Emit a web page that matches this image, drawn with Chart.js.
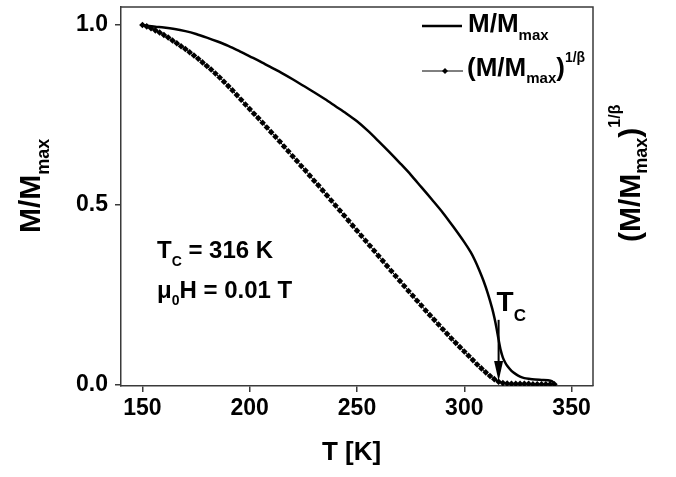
<!DOCTYPE html>
<html>
<head>
<meta charset="utf-8">
<script src="https://cdn.jsdelivr.net/npm/chart.js@4.4.1/dist/chart.umd.min.js"></script>
<style>
    html, body { margin: 0; padding: 0; background: #fff; }
    #wrap { width: 676px; height: 477px; }
</style>
</head>
<body>
<div id="wrap"><canvas id="myChart"></canvas></div>
<script>
// M/Mmax (solid line)
const tempSolid = [150, 153, 156, 160, 165, 170, 175, 180, 185, 190, 195, 200, 205, 210, 215, 220, 225, 230, 235, 240,
    245, 250, 255, 260, 265, 270, 275, 280, 285, 290, 295, 300, 303, 305, 307, 309, 311, 313, 314, 315,
    316, 317, 318, 319, 320, 322, 324, 326, 328, 330, 333, 336, 339, 341, 342];
const mSolid = [1.000, 0.997, 0.995, 0.993, 0.989, 0.983, 0.975, 0.965, 0.954, 0.942, 0.928, 0.913, 0.898, 0.882, 0.866, 0.849, 0.831, 0.813, 0.794, 0.774,
    0.754, 0.732, 0.706, 0.677, 0.647, 0.616, 0.584, 0.549, 0.514, 0.478, 0.438, 0.396, 0.368, 0.345, 0.318, 0.288, 0.253, 0.212, 0.187, 0.158,
    0.125, 0.095, 0.075, 0.062, 0.052, 0.038, 0.029, 0.022, 0.018, 0.016, 0.014, 0.013, 0.012, 0.009, 0.003];

// (M/Mmax)^(1/beta) (dotted line)
const tempDotted = [150, 152, 154, 156, 158, 160, 162, 164, 166, 168, 170, 172, 174, 176, 178, 180, 182, 184, 186, 188,
    190, 192, 194, 196, 198, 200, 202, 204, 206, 208, 210, 212, 214, 216, 218, 220, 222, 224, 226, 228,
    230, 232, 234, 236, 238, 240, 242, 244, 246, 248, 250, 252, 254, 256, 258, 260, 262, 264, 266, 268,
    270, 272, 274, 276, 278, 280, 282, 284, 286, 288, 290, 292, 294, 296, 298, 300, 302, 304, 306, 308,
    310, 312, 314, 316, 318, 320, 322, 324, 326, 328, 330, 332, 334, 336, 338, 340, 342];
const mDotted = [1.000, 0.996, 0.991, 0.985, 0.979, 0.972, 0.965, 0.957, 0.949, 0.941, 0.933, 0.924, 0.915, 0.906, 0.896, 0.886, 0.876, 0.865, 0.854, 0.842,
    0.830, 0.818, 0.805, 0.792, 0.779, 0.766, 0.753, 0.741, 0.728, 0.715, 0.702, 0.689, 0.676, 0.662, 0.649, 0.635, 0.622, 0.608, 0.595, 0.581,
    0.567, 0.554, 0.540, 0.526, 0.512, 0.498, 0.484, 0.470, 0.456, 0.442, 0.428, 0.414, 0.400, 0.386, 0.372, 0.358, 0.344, 0.330, 0.316, 0.302,
    0.288, 0.274, 0.260, 0.247, 0.233, 0.220, 0.206, 0.193, 0.180, 0.167, 0.154, 0.141, 0.128, 0.116, 0.104, 0.092, 0.080, 0.068, 0.056, 0.045,
    0.034, 0.024, 0.015, 0.008, 0.004, 0.003, 0.002, 0.002, 0.002, 0.002, 0.002, 0.001, 0.001, 0.001, 0.001, 0.001, 0.001];

const xTicks = [150, 200, 250, 300, 350];
const yTicks = [0, 0.5, 1.0];
const tcValue = 316;

const FONT = "'Liberation Sans', Arial, sans-serif";
const AXIS = '#3a3a3a';

function drawRich(ctx, x, y, parts, angle) {
    ctx.save();
    ctx.translate(x, y);
    if (angle) ctx.rotate(angle);
    ctx.fillStyle = '#000';
    ctx.textBaseline = 'alphabetic';
    ctx.textAlign = 'left';
    let cx = 0;
    parts.forEach(p => {
        ctx.font = `bold ${p.size}px ${FONT}`;
        ctx.fillText(p.text, cx, p.dy || 0);
        cx += ctx.measureText(p.text).width;
    });
    ctx.restore();
}

const decorations = {
    id: 'decorations',
    afterDraw(chart) {
        const ctx = chart.ctx;
        const area = chart.chartArea;
        const xs = chart.scales.x;
        const ys = chart.scales.y;

        // top and right frame
        ctx.save();
        ctx.strokeStyle = AXIS;
        ctx.lineWidth = 1.5;
        ctx.beginPath();
        ctx.moveTo(area.left, area.top);
        ctx.lineTo(area.right, area.top);
        ctx.lineTo(area.right, area.bottom);
        ctx.stroke();
        ctx.restore();

        // axis titles
        drawRich(ctx, 40, 233, [
            { text: 'M/M', size: 30 },
            { text: 'max', size: 18, dy: 9 }
        ], -Math.PI / 2);
        drawRich(ctx, 640, 242, [
            { text: '(M/M', size: 30 },
            { text: 'max', size: 18, dy: 7 },
            { text: ')', size: 30 },
            { text: '1/β', size: 16, dy: -20 }
        ], -Math.PI / 2);
        drawRich(ctx, 322, 460, [{ text: 'T [K]', size: 26 }]);

        // legend
        ctx.save();
        ctx.strokeStyle = '#000';
        ctx.lineWidth = 2.5;
        ctx.beginPath();
        ctx.moveTo(422, 26);
        ctx.lineTo(462, 26);
        ctx.stroke();
        ctx.lineWidth = 1;
        ctx.beginPath();
        ctx.moveTo(422, 71);
        ctx.lineTo(463, 71);
        ctx.stroke();
        ctx.fillStyle = '#000';
        ctx.beginPath();
        ctx.moveTo(445, 68);
        ctx.lineTo(448, 71);
        ctx.lineTo(445, 74);
        ctx.lineTo(442, 71);
        ctx.closePath();
        ctx.fill();
        ctx.restore();
        drawRich(ctx, 468, 32, [
            { text: 'M/M', size: 26 },
            { text: 'max', size: 15, dy: 8 }
        ]);
        drawRich(ctx, 467, 76, [
            { text: '(M/M', size: 26 },
            { text: 'max', size: 15, dy: 7 },
            { text: ')', size: 26 },
            { text: '1/β', size: 14, dy: -14 }
        ]);

        // annotations
        drawRich(ctx, area.left + 36, 258, [
            { text: 'T', size: 24 },
            { text: 'C', size: 14, dy: 8 },
            { text: ' = 316 K', size: 24 }
        ]);
        drawRich(ctx, area.left + 36, 298, [
            { text: 'μ', size: 24 },
            { text: '0', size: 14, dy: 7 },
            { text: 'H = 0.01 T', size: 24 }
        ]);

        // Tc arrow
        const ax = xs.getPixelForValue(tcValue);
        const aTop = ys.getPixelForValue(0.18);
        const aTip = ys.getPixelForValue(0.01);
        ctx.save();
        ctx.strokeStyle = '#000';
        ctx.fillStyle = '#000';
        ctx.lineWidth = 2;
        ctx.beginPath();
        ctx.moveTo(ax, aTop);
        ctx.lineTo(ax, aTip - 18);
        ctx.stroke();
        ctx.beginPath();
        ctx.moveTo(ax - 4.5, aTip - 20);
        ctx.lineTo(ax + 4.5, aTip - 20);
        ctx.lineTo(ax, aTip);
        ctx.closePath();
        ctx.fill();
        ctx.restore();
        drawRich(ctx, ax - 2, aTop - 9, [
            { text: 'T', size: 28 },
            { text: 'C', size: 17, dy: 10 }
        ]);
    }
};

const ctx = document.getElementById('myChart');
const myChart = new Chart(ctx, {
    type: 'line',
    data: {
        datasets: [{
            label: 'M/Mmax',
            data: tempSolid.map((t, i) => ({ x: t, y: mSolid[i] })),
            borderColor: '#000',
            borderWidth: 2.5,
            pointRadius: 0,
            tension: 0.3
        }, {
            label: '(M/Mmax)^1/β',
            data: tempDotted.map((t, i) => ({ x: t, y: mDotted[i] })),
            borderColor: '#000',
            borderWidth: 1,
            backgroundColor: '#000',
            pointStyle: 'rectRot',
            pointRadius: 3.3,
            pointBorderWidth: 0,
            pointBackgroundColor: '#000',
            tension: 0
        }]
    },
    options: {
        responsive: true,
        maintainAspectRatio: false,
        animation: false,
        layout: {
            padding: { left: 0, right: 83, top: 7, bottom: 0 }
        },
        plugins: {
            legend: { display: false },
            tooltip: { enabled: false }
        },
        scales: {
            x: {
                type: 'linear',
                min: 140,
                max: 360,
                afterBuildTicks: (scale) => { scale.ticks = xTicks.map(v => ({ value: v })); },
                afterFit: (scale) => {
                    scale.height = 91;
                    scale.paddingLeft = 0;
                    scale.paddingRight = 0;
                },
                grid: { drawOnChartArea: false, drawTicks: true, tickLength: 6, color: AXIS, lineWidth: 1.5 },
                border: { display: true, color: AXIS, width: 1.5 },
                ticks: {
                    color: '#000',
                    padding: 3,
                    maxRotation: 0,
                    font: { family: FONT, size: 23, weight: 'bold' }
                }
            },
            y: {
                type: 'linear',
                min: -0.004,
                max: 1.05,
                afterBuildTicks: (scale) => { scale.ticks = yTicks.map(v => ({ value: v })); },
                afterFit: (scale) => {
                    scale.width = 121;
                    scale.paddingTop = 0;
                    scale.paddingBottom = 0;
                },
                grid: { drawOnChartArea: false, drawTicks: true, tickLength: 6, color: AXIS, lineWidth: 1.5 },
                border: { display: true, color: AXIS, width: 1.5 },
                ticks: {
                    color: '#000',
                    padding: 7,
                    font: { family: FONT, size: 23, weight: 'bold' },
                    callback: (v) => v.toFixed(1)
                }
            }
        }
    },
    plugins: [decorations]
});
</script>
</body>
</html>
